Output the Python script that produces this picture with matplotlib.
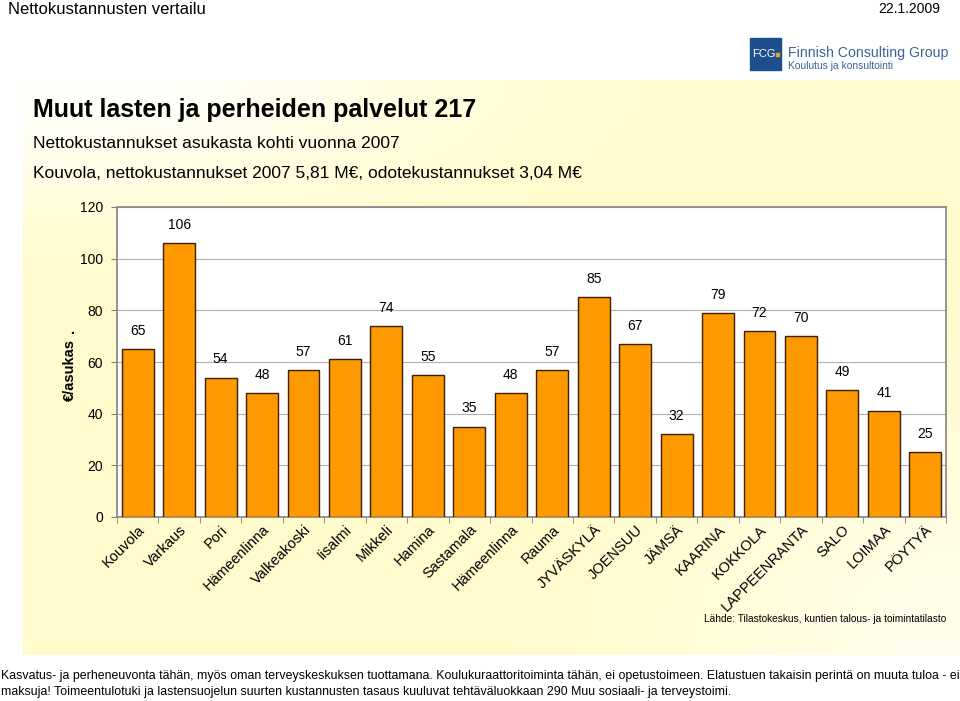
import numpy as np
import matplotlib.pyplot as plt
from matplotlib.patches import Rectangle
import matplotlib.ticker as mticker

CITIES = ["Kouvola", "Varkaus", "Pori", "Hämeenlinna", "Valkeakoski", "Iisalmi",
          "Mikkeli", "Hamina", "Sastamala", "Hämeenlinna", "Rauma", "JYVÄSKYLÄ",
          "JOENSUU", "JÄMSÄ", "KAARINA", "KOKKOLA", "LAPPEENRANTA", "SALO",
          "LOIMAA", "PÖYTYÄ"]
COSTS = [65, 106, 54, 48, 57, 61, 74, 55, 35, 48, 57, 85, 67, 32, 79, 72, 70,
         49, 41, 25]
YTICKS = [0, 20, 40, 60, 80, 100, 120]

FONT = ["Liberation Sans", "DejaVu Sans"]
NARROW = ["Liberation Sans Narrow", "Liberation Sans", "DejaVu Sans"]
plt.rcParams["font.family"] = FONT

W, H = 960, 701
fig = plt.figure(figsize=(W / 100, H / 100), dpi=100)
fig.patch.set_facecolor("white")


def fx(px):
    return px / W


def fy(py):
    return 1 - py / H


# yellow gradient panel behind the chart
bg = fig.add_axes([fx(23), fy(655), fx(960 - 23), (655 - 80) / H])
gx, gy = np.meshgrid(np.linspace(0, 1, 300), np.linspace(0, 1, 200))
white = np.exp(-((gx - 0.05) ** 2 / 0.15 + gy ** 2 / 0.04)) * 0.95
white += np.exp(-((gx - 1.0) ** 2 / 0.08 + (gy - 1.0) ** 2 / 0.15)) * 0.6
white = np.clip(white, 0, 1)
yellow = np.array([1.0, 0.985, 0.80])
img = yellow[None, None, :] * (1 - white[..., None]) + white[..., None]
bg.imshow(img, aspect="auto", extent=(0, 1, 1, 0))
bg.set_axis_off()

# header
fig.text(fx(8), fy(9), "Nettokustannusten vertailu", fontsize=12,
         family=NARROW, va="center", ha="left")
fig.text(fx(940), fy(9), "22.1.2009", fontsize=10, family=NARROW,
         va="center", ha="right")

# logo
fig.patches.append(Rectangle((fx(750), fy(70)), fx(31), (70 - 38) / H,
                             transform=fig.transFigure, color="#1d4f8e"))
fig.text(fx(764), fy(54), "FCG", fontsize=8, color="white", ha="center",
         va="center", family=NARROW)
fig.patches.append(Rectangle((fx(776), fy(56)), fx(3), 3 / H,
                             transform=fig.transFigure, color="#f0a020"))
fig.text(fx(788), fy(53), "Finnish Consulting Group", fontsize=10.2,
         color="#3a6496", ha="left", va="center")
fig.text(fx(788), fy(66), "Koulutus ja konsultointi", fontsize=7.4,
         color="#3a6496", ha="left", va="center")

# titles
fig.text(fx(33), fy(110), "Muut lasten ja perheiden palvelut 217",
         fontsize=18, fontweight="bold", va="center", ha="left")
fig.text(fx(33), fy(143), "Nettokustannukset asukasta kohti vuonna 2007",
         fontsize=12.5, va="center", ha="left")
fig.text(fx(33), fy(173),
         "Kouvola, nettokustannukset 2007 5,81 M€, odotekustannukset 3,04 M€",
         fontsize=12.5, va="center", ha="left")

# chart
ax = fig.add_axes([fx(117), fy(517), fx(946 - 117), (517 - 207) / H])
ax.set_facecolor("white")
x = np.arange(len(CITIES))
ax.bar(x, COSTS, width=0.77, color="#ff9900", edgecolor="#3a2000",
       linewidth=1.0, zorder=3)
for xi, v in zip(x, COSTS):
    ax.annotate(f"{v}", (xi, v), xytext=(0, 8), textcoords="offset points",
                ha="center", va="bottom", fontsize=10)

ax.set_xlim(-0.5, len(CITIES) - 0.5)
ax.set_ylim(0, 120)
ax.set_yticks(YTICKS)
ax.tick_params(axis="y", labelsize=10, length=4, color="#808080", pad=6)
ax.yaxis.grid(True, color="#b0b0b0", linewidth=0.8, zorder=0)
ax.set_xticks(x)
ax.set_xticklabels(CITIES, rotation=45, ha="right", rotation_mode="anchor",
                   fontsize=10.5)
ax.tick_params(axis="x", which="major", length=0, pad=4)
ax.xaxis.set_minor_locator(mticker.FixedLocator(np.arange(-0.5, len(CITIES), 1)))
ax.tick_params(axis="x", which="minor", length=4, color="#808080")
for s in ax.spines.values():
    s.set_color("#8c8c8c")
    s.set_linewidth(1.3)

fig.text(fx(70), fy(370), "€/asukas", fontsize=10.5, fontweight="bold",
         rotation=90, ha="center", va="center")
fig.text(fx(70), fy(331), ".", fontsize=10.5, fontweight="bold",
         rotation=90, ha="center", va="center")

fig.text(fx(946), fy(619),
         "Lähde: Tilastokeskus, kuntien talous- ja toimintatilasto",
         fontsize=7.3, ha="right", va="center")

# footnote
fig.text(fx(1), fy(676),
         "Kasvatus- ja perheneuvonta tähän, myös oman terveyskeskuksen "
         "tuottamana. Koulukuraattoritoiminta tähän, ei opetustoimeen. "
         "Elatustuen takaisin perintä on muuta tuloa - ei",
         fontsize=8.9, family=NARROW, ha="left", va="center")
fig.text(fx(1), fy(692),
         "maksuja! Toimeentulotuki ja lastensuojelun suurten kustannusten "
         "tasaus kuuluvat tehtäväluokkaan 290 Muu sosiaali- ja terveystoimi.",
         fontsize=8.9, family=NARROW, ha="left", va="center")

fig.savefig("out.png", dpi=100, facecolor=fig.get_facecolor())
